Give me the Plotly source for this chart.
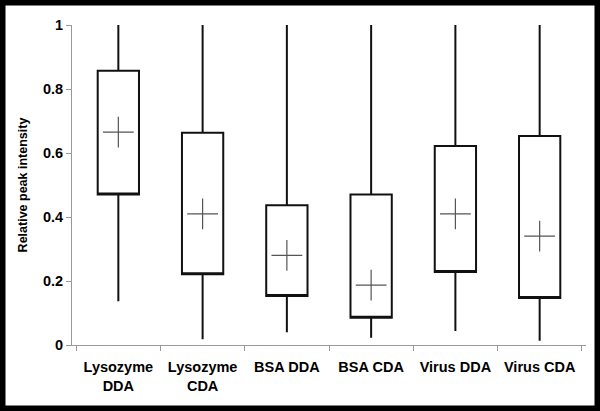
import plotly.graph_objects as go

categories = ["Lysozyme<br>DDA", "Lysozyme<br>CDA", "BSA DDA", "BSA CDA", "Virus DDA", "Virus CDA"]
q1 = [0.470, 0.221, 0.153, 0.085, 0.228, 0.147]
q3 = [0.857, 0.663, 0.437, 0.470, 0.622, 0.653]
lows = [0.137, 0.018, 0.040, 0.023, 0.044, 0.013]
highs = [1.0, 1.0, 1.0, 1.0, 1.0, 1.0]
means = [0.665, 0.410, 0.280, 0.187, 0.410, 0.340]

W, H = 600, 411
L, R, T, B = 72, 14, 25, 66
pw, ph = W - L - R, H - T - B

def px(x):
    return (x - L) / pw

def py(y):
    return (H - B - y) / ph

fig = go.Figure()
fig.add_trace(go.Box(
    x=categories, q1=q1, median=q1, q3=q3,
    lowerfence=lows, upperfence=highs,
    fillcolor="white", line=dict(color="#111111", width=2),
    whiskerwidth=0, width=0.49, boxpoints=False, hoverinfo="skip",
    showlegend=False,
))
fig.add_trace(go.Scatter(
    x=categories, y=means, mode="markers",
    marker=dict(symbol="cross-thin", size=22, line=dict(color="#555555", width=1.2)),
    showlegend=False, hoverinfo="skip",
))

fig.update_layout(
    width=W, height=H,
    margin=dict(l=L, r=R, t=T, b=B),
    paper_bgcolor="white", plot_bgcolor="white",
    font=dict(family="Liberation Sans, Arial, sans-serif", color="black"),
    xaxis=dict(
        automargin=False,
        showline=True, linecolor="#999999", linewidth=1,
        ticks="outside", tickson="boundaries", ticklen=5, tickcolor="#999999",
        tickfont=dict(size=14.5, weight="bold"), ticklabelstandoff=9,
        showgrid=False, zeroline=False,
    ),
    yaxis=dict(
        automargin=False,
        range=[0, 1], tickvals=[0, 0.2, 0.4, 0.6, 0.8, 1.0],
        ticktext=["0", "0.2", "0.4", "0.6", "0.8", "1"],
        showline=True, linecolor="#999999", linewidth=1,
        ticks="outside", ticklen=5, tickcolor="#999999",
        tickfont=dict(size=14.5, weight="bold"),
        showgrid=False, zeroline=False,
        title=dict(text="Relative peak intensity", font=dict(size=12.5, weight="bold"), standoff=12),
    ),
    shapes=[dict(
        type="rect", xref="paper", yref="paper",
        x0=px(0), x1=px(600), y0=py(411), y1=py(0),
        line=dict(color="black", width=11), fillcolor="rgba(0,0,0,0)",
    )],
)

fig.write_html(
    "out.html",
    config={"displayModeBar": False},
    post_script="document.body.style.margin='0';document.body.style.overflow='hidden';",
)
